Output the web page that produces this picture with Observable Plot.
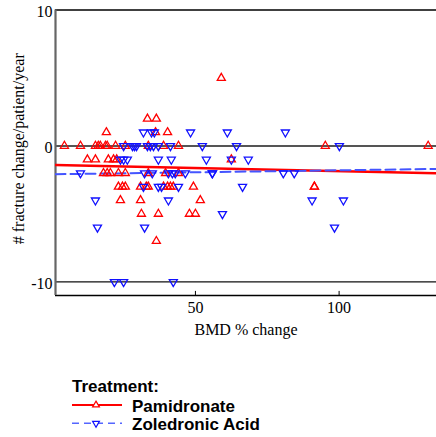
<!DOCTYPE html>
<html><head><meta charset="utf-8">
<script src="https://cdn.jsdelivr.net/npm/d3@7"></script>
<script src="https://cdn.jsdelivr.net/npm/@observablehq/plot@0.6"></script>
<style>
body{margin:0;background:#fff;}
#chart svg,#legend svg{display:block;}
</style>
</head><body><div id="chart"></div><div id="legend"></div>
<script>
// ---- data ----
const seriesNames = ["Pamidronate", "Zoledronic Acid"];
const seriesColors = ["#ff0000", "#1010ff"];
const pamBmd = [59, 33.3, 36.4, 19, 36.1, 40.3,
  4.4, 10, 15.2, 16.2, 16.9, 18.7, 19.3, 22.2, 25.6, 33.6, 38.9, 44.1, 95.2, 131,
  12.4, 15.2, 19.7, 21.5, 22.6, 62.5,
  18, 19.3, 20.4, 23.2, 25.6, 33.6, 39.6, 44.1,
  23.2, 24.6, 25.6, 30.9, 32.9, 33.6, 38.9, 40.3, 41.3, 42.3, 49.3, 91.4, 91.4,
  23.9, 30.9, 51.7,
  31.2, 37.1, 47.9, 50,
  36.4];
const pamFx = [5, 2, 2, 1, 1, 1,
  0, 0, 0, 0, 0, 0, 0, 0, 0, 0, 0, 0, 0, 0,
  -1, -1, -1, -1, -1, -1,
  -2, -2, -2, -2, -2, -2, -2, -2,
  -3, -3, -3, -3, -3, -3, -3, -3, -3, -3, -3, -3, -3,
  -4, -4, -4,
  -5, -5, -5, -5,
  -7];
const zolBmd = [31.9, 34.7, 35.7, 48.3, 61.1, 81.3,
  25, 28.1, 28.8, 29.5, 33.3, 34.3, 35.4, 37.1, 41.3, 52.4, 64.3, 100.1,
  23.9, 25, 26.3, 37.1, 41.6, 53.8, 62.5, 68.4,
  10, 32.3, 35, 40.6, 42, 43, 46.5, 55.9, 55.9, 80.6, 84.4,
  31.9, 37.1, 38.2, 44.1, 66.4,
  15.2, 40.6, 90.6, 101.5,
  59.4,
  15.9, 32.3, 98.4,
  21.8, 25, 42.3];
const zolFx = [1, 1, 1, 1, 1, 1,
  0, 0, 0, 0, 0, 0, 0, 0, 0, 0, 0, 0,
  -1, -1, -1, -1, -1, -1, -1, -1,
  -2, -2, -2, -2, -2, -2, -2, -2, -2, -2, -2,
  -3, -3, -3, -3, -3,
  -4, -4, -4, -4,
  -5,
  -6, -6, -6,
  -10, -10, -10];
// fitted lines (end values)
const fitBmd = [1.3, 133.9];
const pamFit = [-1.40, -2.01];
const zolFit = [-2.08, -1.69];
const xDomain = [1.3, 133.9];
const yDomain = [-11, 10];
const xTicks = [50, 100];
const yTicks = [-10, 0, 10];
const xLabel = "BMD % change";
const yLabel = "# fracture change/patient/year";
const legendTitle = "Treatment:";

// ---- build ----
const pts = [
  ...pamBmd.map((x, i) => ({bmd: x, fx: pamFx[i], s: seriesNames[0]})),
  ...zolBmd.map((x, i) => ({bmd: x, fx: zolFx[i], s: seriesNames[1]}))
];
const triDown = {
  draw(ctx, size) {
    const y = -Math.sqrt(size / (Math.sqrt(3) * 3));
    ctx.moveTo(0, -y * 2);
    ctx.lineTo(Math.sqrt(3) * y, y);
    ctx.lineTo(-Math.sqrt(3) * y, y);
    ctx.closePath();
  }
};

const chart = Plot.plot({
  width: 436, height: 360,
  marginLeft: 55, marginRight: 0, marginTop: 9.5, marginBottom: 65,
  style: {fontFamily: "'Liberation Serif','Times New Roman',serif", fontSize: "16px", color: "#000", background: "#fff"},
  x: {domain: xDomain},
  y: {domain: yDomain},
  marks: [
    Plot.ruleY([0], {stroke: "#555", strokeWidth: 2}),
    Plot.ruleY([yTicks[0]], {stroke: "#111", strokeWidth: 1.3}),
    Plot.ruleY([yDomain[1]], {stroke: "#000", strokeWidth: 1.6}),
    Plot.ruleY([yDomain[0]], {stroke: "#000", strokeWidth: 1.6}),
    Plot.ruleX([xDomain[0]], {stroke: "#666", strokeWidth: 2.2}),
    Plot.ruleX(xTicks, {y1: yDomain[0], y2: yDomain[0] + 0.3, stroke: "#000", strokeWidth: 1}),
    Plot.axisX(xTicks, {tickSize: 0, tickPadding: 6, label: null, fontSize: 16, tickFormat: d => String(d)}),
    Plot.axisY(yTicks, {tickSize: 0, tickPadding: 3, dy: 2, label: null, fontSize: 16, tickFormat: d => String(d)}),
    Plot.text([xLabel], {frameAnchor: "bottom", dy: 39, fontSize: 16}),
    Plot.text([yLabel], {frameAnchor: "left", textAnchor: "middle", rotate: -90, dx: -37, dy: -4, fontSize: 16}),
    Plot.line({length: 2}, {x: fitBmd, y: pamFit, stroke: seriesColors[0], strokeWidth: 2.6, clip: true}),
    Plot.line({length: 2}, {x: fitBmd, y: zolFit, stroke: "#4455ff", strokeWidth: 2, strokeDasharray: "10,5", clip: true}),
    Plot.dot(pts.filter(d => d.s === seriesNames[0]), {x: "bmd", y: "fx", symbol: "triangle", r: 3, stroke: seriesColors[0], strokeWidth: 1.3, fill: "none"}),
    Plot.dot(pts.filter(d => d.s === seriesNames[1]), {x: "bmd", y: "fx", symbol: triDown, r: 3, stroke: seriesColors[1], strokeWidth: 1.3, fill: "none"})
  ]
});
document.getElementById("chart").append(chart);

// ---- legend ----
const lg = d3.select("#legend").append("svg").attr("width", 436).attr("height", 77)
  .style("font-family", "'Liberation Sans',Arial,sans-serif").style("font-weight", "bold");
lg.append("text").attr("x", 72).attr("y", 31.7).attr("font-size", 17).text(legendTitle);
const rows = [
  {name: seriesNames[0], color: seriesColors[0], lineColor: "#ff0000", dash: null, sym: d3.symbolTriangle, flip: false, y: 45, ty: 51.7},
  {name: seriesNames[1], color: seriesColors[1], lineColor: "#5566ff", dash: "7,5", sym: d3.symbolTriangle, flip: true, y: 63.3, ty: 70}
];
rows.forEach(r => {
  lg.append("line").attr("x1", 72).attr("x2", 122).attr("y1", r.y).attr("y2", r.y)
    .attr("stroke", r.lineColor).attr("stroke-width", r.dash ? 1.6 : 2.2).attr("stroke-dasharray", r.dash);
  lg.append("path").attr("d", d3.symbol(r.flip ? triDown : r.sym, 20)())
    .attr("transform", `translate(96,${r.y})`).attr("fill", "#fff").attr("stroke", r.color).attr("stroke-width", 1.2);
  lg.append("text").attr("x", 132).attr("y", r.ty).attr("font-size", 17).text(r.name);
});
</script>
</body></html>
